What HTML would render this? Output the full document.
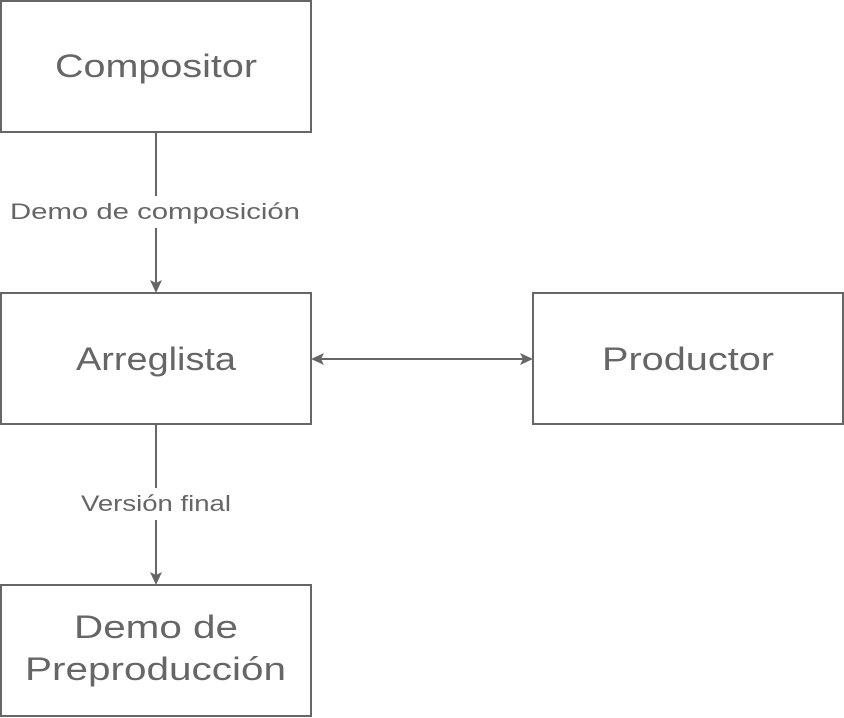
<!DOCTYPE html>
<html><head><meta charset="utf-8"><style>
html,body{margin:0;padding:0;background:#fff;}
svg{display:block;}
text{font-family:"Liberation Sans",sans-serif;fill:#666;}
</style></head><body>
<svg width="844" height="718" viewBox="0 0 844 718" xmlns="http://www.w3.org/2000/svg">
<g fill="#fff" stroke="#666" stroke-width="2">
<rect x="1" y="1" width="310" height="131"/>
<rect x="1" y="293" width="310" height="131"/>
<rect x="533" y="293" width="310" height="131"/>
<rect x="1" y="585" width="310" height="131"/>
</g>
<g stroke="#666" stroke-width="2" fill="none">
<line x1="156" y1="132" x2="156" y2="283"/>
<line x1="156" y1="424" x2="156" y2="575"/>
<line x1="321" y1="359" x2="523" y2="359"/>
</g>
<g fill="#666">
<polygon points="150,280 156,293 162,280 156,283"/>
<polygon points="150,572 156,585 162,572 156,575"/>
<polygon points="324,353 311,359 324,365 321,359"/>
<polygon points="520,353 533,359 520,365 523,359"/>
</g>
<rect x="8" y="196" width="296" height="32" fill="#fff"/>
<rect x="78" y="488" width="156" height="32" fill="#fff"/>
<g font-size="32" lengthAdjust="spacingAndGlyphs">
<text x="55" y="77" textLength="202" lengthAdjust="spacingAndGlyphs">Compositor</text>
<text x="76" y="370" textLength="160" lengthAdjust="spacingAndGlyphs">Arreglista</text>
<text x="602" y="370" textLength="172" lengthAdjust="spacingAndGlyphs">Productor</text>
<text x="74" y="638" textLength="164" lengthAdjust="spacingAndGlyphs">Demo de</text>
<text x="25" y="680" textLength="261" lengthAdjust="spacingAndGlyphs">Preproducción</text>
</g>
<g font-size="22">
<text x="10" y="219" textLength="290" lengthAdjust="spacingAndGlyphs">Demo de composición</text>
<text x="81" y="511" textLength="150" lengthAdjust="spacingAndGlyphs">Versión final</text>
</g>
</svg>
</body></html>
